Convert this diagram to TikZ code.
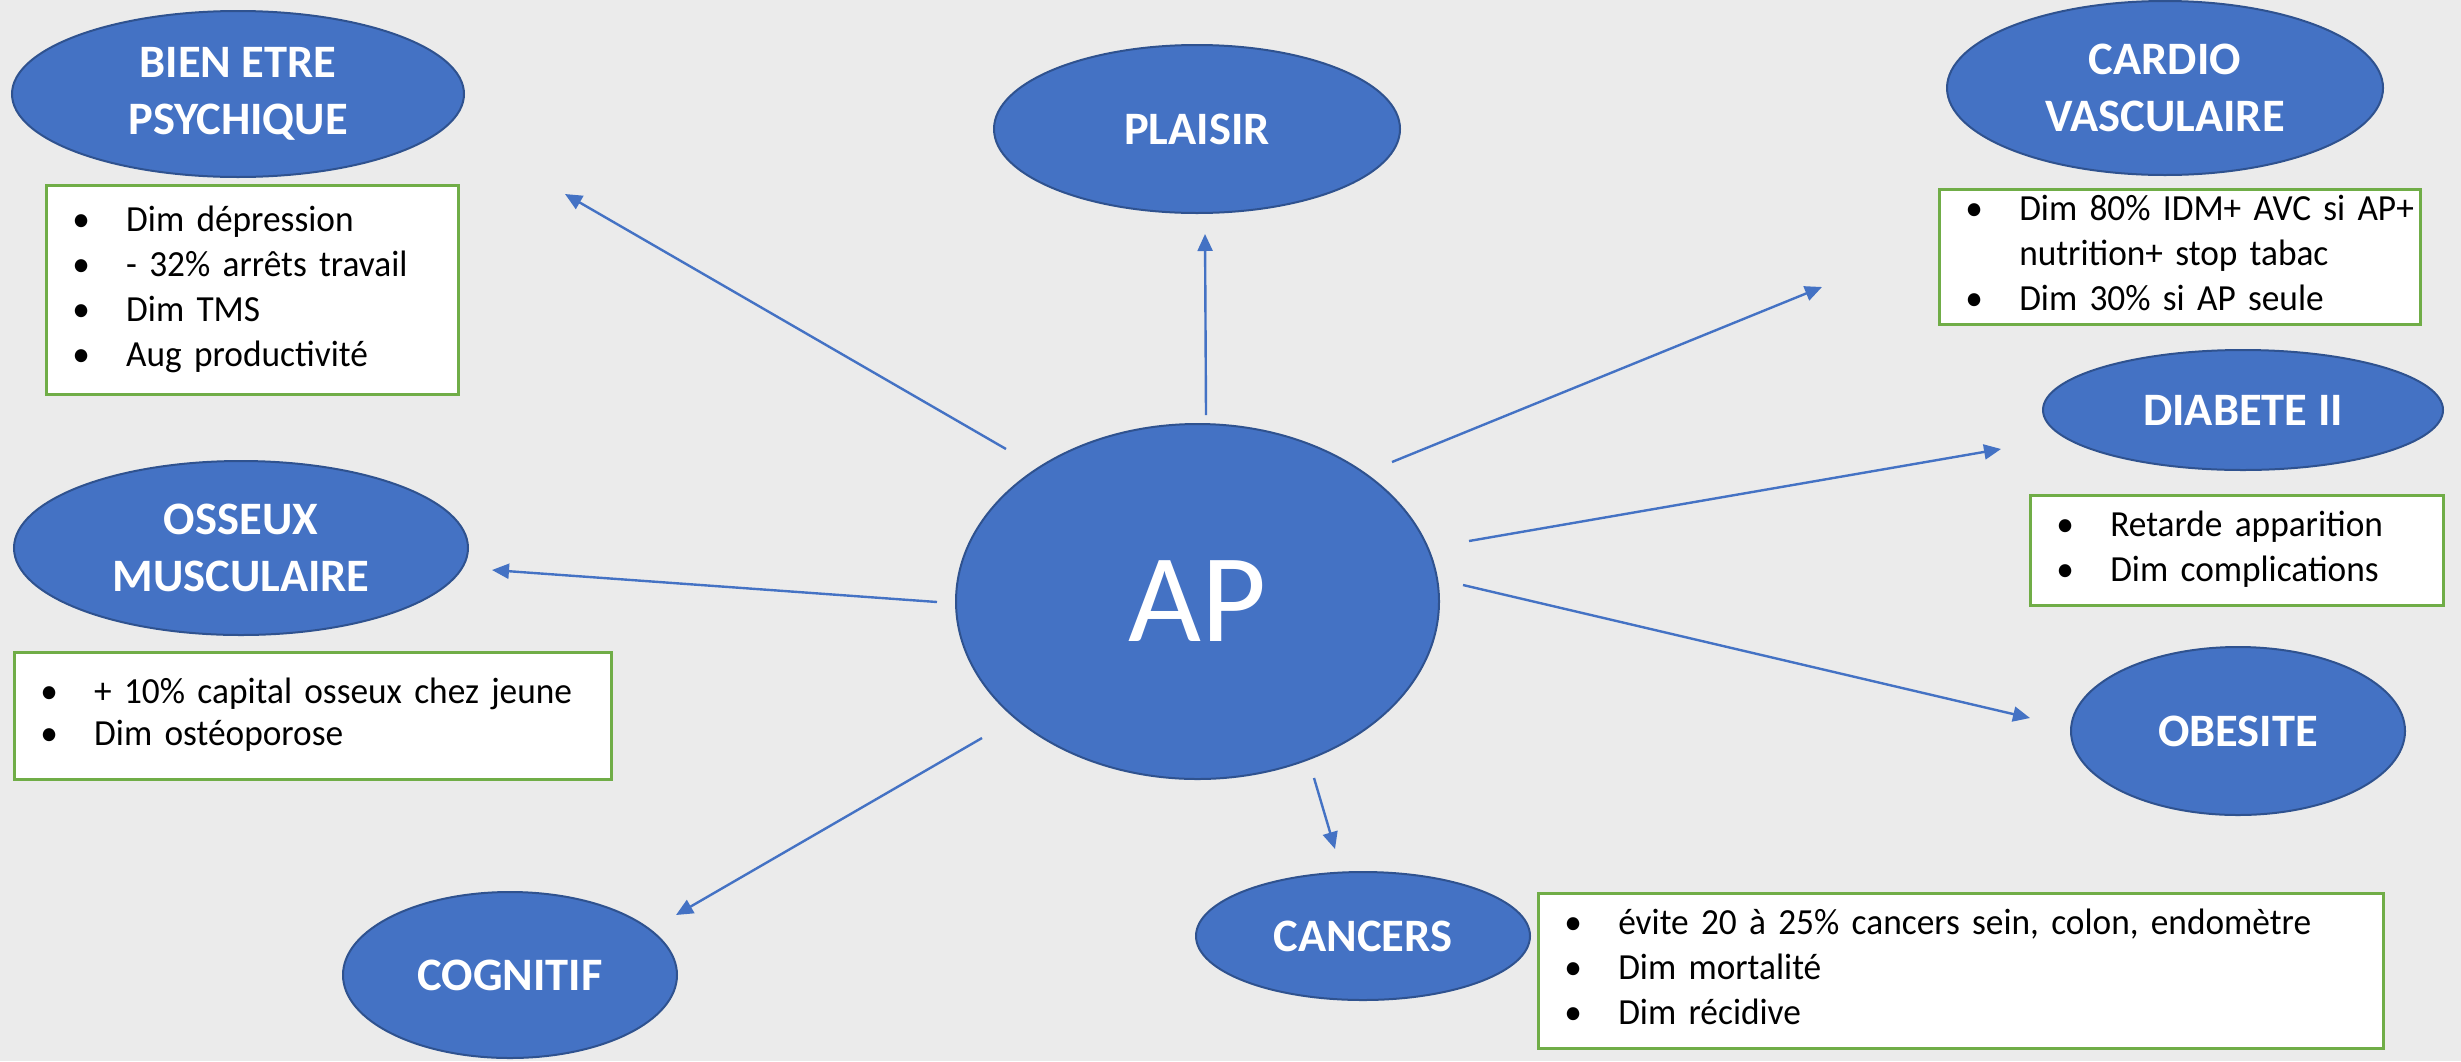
\documentclass[tikz,border=0pt]{standalone}
\usepackage{fontspec}
\setmainfont{Carlito}
\newfontfamily\boxfont{Carlito}[FakeStretch=0.96]
\usetikzlibrary{shapes.geometric,arrows.meta}
\definecolor{bgc}{RGB}{235,235,235}
\definecolor{ofblue}{HTML}{4472C4}
\definecolor{ofdark}{HTML}{2F528F}
\definecolor{ofgreen}{HTML}{70AD47}
\newenvironment{blist}{\begin{tabular}{@{}p{27pt}@{}l@{}}}{\end{tabular}}
\begin{document}
\begin{tikzpicture}[x=0.5pt,y=-0.5pt,
  bubble/.style={ellipse, draw=ofdark, line width=1pt, fill=ofblue, text=white,
    inner sep=0pt, align=center, font=\bfseries\fontsize{23.25}{28.5}\selectfont},
  infobox/.style={draw=ofgreen, line width=1.25pt, fill=white, anchor=north west,
    inner xsep=13pt, inner ysep=0pt, align=left, font=\boxfont\fontsize{18.4}{22.5}\selectfont},
  link/.style={draw=ofblue, line width=1.2pt, -{Triangle[length=8.5pt,width=7.5pt]}}]
\fill[bgc] (0,0) rectangle (2461,1061);
\useasboundingbox (0,0) rectangle (2461,1061);

% bubbles
\node[bubble, minimum width=226pt, minimum height=83pt] (bien) at (238,94) {BIEN ETRE\\PSYCHIQUE};
\node[bubble, minimum width=203pt, minimum height=84pt] (plaisir) at (1197,129) {PLAISIR};
\node[bubble, minimum width=218pt, minimum height=87pt] (cardio) at (2165,88) {CARDIO\\VASCULAIRE};
\node[bubble, minimum width=200pt, minimum height=60pt] (diabete) at (2243,410) {DIABETE II};
\node[bubble, minimum width=227pt, minimum height=87pt] (osseux) at (241,548) {OSSEUX\\MUSCULAIRE};
\node[bubble, minimum width=241.5pt, minimum height=177.5pt, font=\fontsize{63}{70}\selectfont] (ap) at (1197.5,601.5) {AP};
\node[bubble, minimum width=167pt, minimum height=83pt] (cognitif) at (510,975) {COGNITIF};
\node[bubble, minimum width=167pt, minimum height=84pt] (obesite) at (2238,731) {OBESITE};
\node[bubble, minimum width=167pt, minimum height=64pt] (cancers) at (1363,936) {CANCERS};

% info boxes
\node[infobox, text width=180pt, minimum height=104.5pt] (bienbox) at (45,184)
  {\begin{blist} • & Dim dépression\\ • & - 32\% arrêts travail\\ • & Dim TMS\\ • & Aug productivité\end{blist}};
\node[infobox, text width=214.5pt, minimum height=67pt] (cardiobox) at (1938,188)
  {\begin{blist} • & Dim 80\% IDM+ AVC si AP+\\ & nutrition+ stop tabac\\ • & Dim 30\% si AP seule\end{blist}};
\node[infobox, text width=180.5pt, minimum height=55pt] (diabetebox) at (2029,494)
  {\begin{blist} • & Retarde apparition\\ • & Dim complications\end{blist}};
\node[infobox, text width=272.5pt, minimum height=63.5pt, font=\boxfont\fontsize{18.4}{21}\selectfont] (osseuxbox) at (13,651)
  {\begin{blist} • & + 10\% capital osseux chez jeune\\ • & Dim ostéoporose\end{blist}};
\node[infobox, text width=396.5pt, minimum height=77.5pt] (cancersbox) at (1537,892)
  {\begin{blist} • & évite 20 à 25\% cancers sein, colon, endomètre\\ • & Dim mortalité\\ • & Dim récidive\end{blist}};

% connector ends
\coordinate (apBien) at (1006,449);   \coordinate (toBien) at (565,194);
\coordinate (apPlaisir) at (1206,415);\coordinate (toPlaisir) at (1205,234);
\coordinate (apCardio) at (1392,462); \coordinate (toCardio) at (1822,287);
\coordinate (apDiab) at (1469,541);   \coordinate (toDiab) at (2001,449);
\coordinate (apOss) at (937,602);     \coordinate (toOss) at (492,570);
\coordinate (apObe) at (1463,585);    \coordinate (toObe) at (2030,718);
\coordinate (apCog) at (982,738);     \coordinate (toCog) at (676,915);
\coordinate (apCan) at (1314,778);    \coordinate (toCan) at (1335,849);

\draw[link] (apBien) -- (toBien);
\draw[link] (apPlaisir) -- (toPlaisir);
\draw[link] (apCardio) -- (toCardio);
\draw[link] (apDiab) -- (toDiab);
\draw[link] (apOss) -- (toOss);
\draw[link] (apObe) -- (toObe);
\draw[link] (apCog) -- (toCog);
\draw[link] (apCan) -- (toCan);
\end{tikzpicture}
\end{document}
